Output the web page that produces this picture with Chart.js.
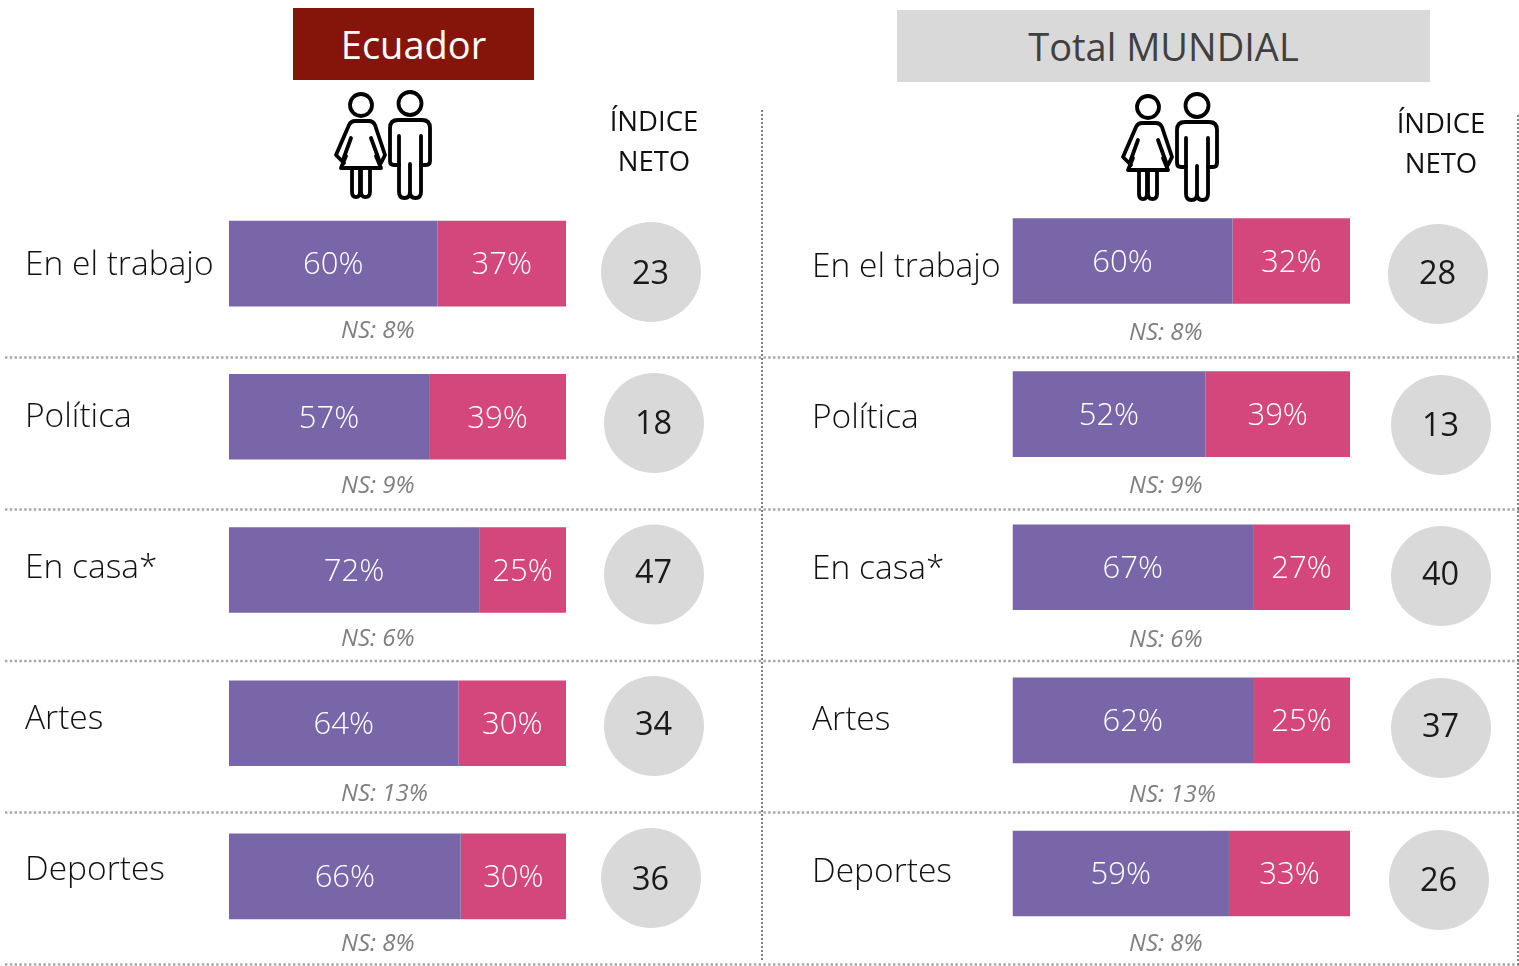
<!DOCTYPE html>
<html lang="es">
<head>
<meta charset="utf-8">
<title>Ecuador y Total MUNDIAL</title>
<script src="https://cdn.jsdelivr.net/npm/chart.js@4"></script>
<style>
html,body{margin:0;padding:0;background:#fff;overflow:hidden}
#page{position:relative;width:1519px;height:966px;overflow:hidden;font-family:"Open Sans",sans-serif}
canvas{position:absolute;top:0}
#c1{left:0}#c2{left:762px}
.head{position:absolute;display:flex;align-items:center;justify-content:center;font-size:38px;font-weight:400}
.idx{position:absolute;width:140px;text-align:center;font-size:27.500px;line-height:40px;color:#111}
svg{position:absolute;left:0;top:0}
</style>
</head>
<body>
<div id="page">
<canvas id="c1" width="762" height="1000"></canvas>
<canvas id="c2" width="757" height="1000"></canvas>
<svg width="1519" height="966" fill="none">
<defs>
<g id="people" stroke="#000" stroke-width="3.800" stroke-linecap="round" stroke-linejoin="round">
<circle cx="361" cy="105" r="11"/>
<path d="M344,163 L336,155 L349,125 Q351,121 355,121 L369,121 Q373,121 375,125 L385,155 L381,163"/>
<path d="M351,138 L343,160 M371,138 L379,160 M341,168 L381,168 M341,168 L346,156 M381,168 L376,156"/>
<path d="M352,168 V192 Q352,197 356,197 Q360,197 360,192 V168 M361,168 V192 Q361,197 365.500,197 Q370,197 370,192 V168"/>
<circle cx="410" cy="103.500" r="11.500"/>
<path d="M399,165 H394 Q390,165 390,161 V128 Q390,120 398,120 H422 Q430,120 430,128 V161 Q430,165 426,165 H421"/>
<path d="M399,136 V192 Q399,198 404.500,198 Q410,198 410,192 V164 V192 Q410,198 415.500,198 Q421,198 421,192 V136"/>
</g>
</defs>
<use href="#people"/>
<use href="#people" x="787" y="2"/>
<g stroke="#a6a6a6" stroke-width="2.400" stroke-dasharray="2.400 2.400">
<path d="M5,357.500H1519M5,509.500H1519M5,661H1519M5,812.500H1519M5,964.500H1519"/>
</g>
<g stroke="#7f7f7f" stroke-width="2" stroke-dasharray="2 2">
<path d="M762,110V962M1518,115V966"/>
</g>
</svg>
<div class="head" style="left:293px;top:8px;width:241px;height:72px;background:#85140a;color:#fff">Ecuador</div>
<div class="head" style="left:897px;top:10px;width:533px;height:72px;background:#d9d9d9;color:#404040">Total MUNDIAL</div>
<div class="idx" style="left:584px;top:101px">ÍNDICE<br>NETO</div>
<div class="idx" style="left:1371px;top:103px">ÍNDICE<br>NETO</div>
</div>
<script>
// ---- data ----
const categories = ["En el trabajo", "Política", "En casa*", "Artes", "Deportes"];
const ecuadorFavor = [60, 57, 72, 64, 66];
const ecuadorContra = [37, 39, 25, 30, 30];
const ecuadorNS = [8, 9, 6, 13, 8];
const ecuadorNeto = [23, 18, 47, 34, 36];
const mundialFavor = [60, 52, 67, 62, 59];
const mundialContra = [32, 39, 27, 25, 33];
const mundialNS = [8, 9, 6, 13, 8];
const mundialNeto = [28, 13, 40, 37, 26];

// ---- layout (not data) ----
const PURPLE = "#7866a8", PINK = "#d4477c", CIRCLE = "#d9d9d9", NSGREY = "#7f7f7f";
const panels = [
  { id:"c1", favor:ecuadorFavor, contra:ecuadorContra, ns:ecuadorNS, neto:ecuadorNeto,
    left:25, plotLeft:229, plotRight:566, top:187, bottom:953,
    labelDy:[2.2,1,-1.2,-3.4,-5.6],
    nsX:341, nsY:[332,487,640,795,945],
    cX:[651,654,654,654,651], cY:[272,423,574.5,726,878], tY:[275,425,574,726,881] },
  { id:"c2", favor:mundialFavor, contra:mundialContra, ns:mundialNS, neto:mundialNeto,
    left:50, plotLeft:250.5, plotRight:588, top:184.5, bottom:950,
    labelDy:[6.5,4.4,2.3,0.2,-0.9],
    nsX:367, nsY:[334,487,641,796,945],
    cX:[676,679,679,679,677], cY:[274,425,576,728,880], tY:[275,427,576,728,882] }
];
const FONT = '"Open Sans", sans-serif';

const overlay = {
  id:"overlay",
  afterUpdate(chart){
    const p = chart.options.plugins.overlay.panel;
    const items = chart.scales.y.getLabelItems(chart.chartArea);
    items.forEach((it,i)=>{ it.options.translation[1] += p.labelDy[i]; });
  },
  afterDatasetsDraw(chart){
    const p = chart.options.plugins.overlay.panel;
    const c = chart.ctx;
    c.save();
    c.textAlign = "center"; c.textBaseline = "middle";
    c.font = `300 31px ${FONT}`; c.fillStyle = "#fff";
    [p.favor,p.contra].forEach((arr,d)=>{
      chart.getDatasetMeta(d).data.forEach((bar,i)=>{
        c.fillText(arr[i]+"%", (bar.x+bar.base)/2, bar.y+2);
      });
    });
    categories.forEach((_,i)=>{
      c.fillStyle = CIRCLE;
      c.beginPath(); c.arc(p.cX[i],p.cY[i],50,0,Math.PI*2); c.fill();
      c.fillStyle = "#1a1a1a"; c.textAlign = "center";
      c.font = `400 32.5px ${FONT}`;
      c.fillText(String(p.neto[i]), p.cX[i]-0.5, p.tY[i]);
      c.fillStyle = NSGREY; c.textAlign = "left";
      c.font = `italic 400 24px ${FONT}`;
      c.fillText("NS: "+p.ns[i]+"%", p.nsX, p.nsY[i]-1);
    });
    c.restore();
  }
};

panels.forEach(p=>{
  const cv = document.getElementById(p.id);
  new Chart(cv,{
    type:"bar",
    plugins:[overlay],
    data:{ labels:categories, datasets:[
      { data:p.favor.map((v,i)=>v/(v+p.contra[i])*100), backgroundColor:PURPLE },
      { data:p.contra.map((v,i)=>v/(v+p.favor[i])*100), backgroundColor:PINK }
    ]},
    options:{
      indexAxis:"y", responsive:false, animation:false, devicePixelRatio:1,
      datasets:{ bar:{ barPercentage:0.559, categoryPercentage:1, borderWidth:0 } },
      layout:{ autoPadding:false, padding:{ left:p.left, top:p.top, right:cv.width-p.plotRight, bottom:cv.height-p.bottom } },
      plugins:{ legend:{display:false}, tooltip:{enabled:false}, title:{display:false}, overlay:{panel:p} },
      scales:{
        x:{ stacked:true, min:0, max:100, display:false },
        y:{ stacked:true, position:"left",
            grid:{display:false}, border:{display:false},
            afterFit(s){ s.width = p.plotLeft-p.left; },
            ticks:{ crossAlign:"far", padding:0, color:"#111", autoSkip:false,
                    font:{ family:FONT, size:33.5, weight:"300" } } }
      }
    }
  });
});
</script>
</body>
</html>
